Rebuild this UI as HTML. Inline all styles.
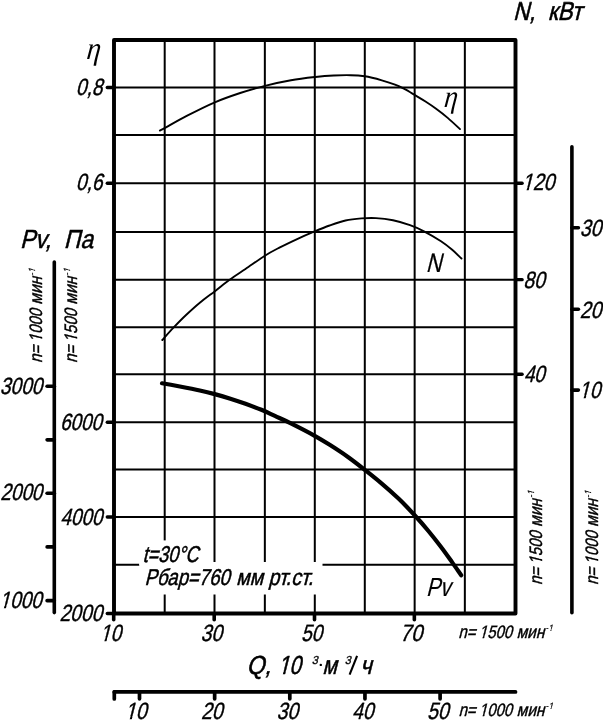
<!DOCTYPE html>
<html><head><meta charset="utf-8"><title>Fan performance chart</title>
<style>
html,body{margin:0;padding:0;background:#fff;}
svg{display:block;will-change:transform;filter:grayscale(1);}
.g{stroke:#000;stroke-width:2.0;}
.c{fill:none;stroke:#000;stroke-width:1.9;stroke-linecap:round;}
.p{fill:none;stroke:#000;stroke-width:4.2;stroke-linecap:round;}
.t{font-family:"Liberation Sans",sans-serif;font-style:normal;fill:#000;}
.s{font-family:"Liberation Serif",serif;font-style:italic;fill:#000;}
</style></head>
<body>
<svg width="603" height="720" viewBox="0 0 603 720">
<rect width="603" height="720" fill="#fff"/>
<line x1="164.70" y1="40.0" x2="164.70" y2="613.55" class="g"/>
<line x1="214.50" y1="40.0" x2="214.50" y2="613.55" class="g"/>
<line x1="264.85" y1="40.0" x2="264.85" y2="613.55" class="g"/>
<line x1="314.80" y1="40.0" x2="314.80" y2="613.55" class="g"/>
<line x1="364.80" y1="40.0" x2="364.80" y2="613.55" class="g"/>
<line x1="414.65" y1="40.0" x2="414.65" y2="613.55" class="g"/>
<line x1="464.85" y1="40.0" x2="464.85" y2="613.55" class="g"/>
<line x1="114.0" y1="87.55" x2="515.5" y2="87.55" class="g"/>
<line x1="114.0" y1="135.10" x2="515.5" y2="135.10" class="g"/>
<line x1="114.0" y1="183.30" x2="515.5" y2="183.30" class="g"/>
<line x1="114.0" y1="231.90" x2="515.5" y2="231.90" class="g"/>
<line x1="114.0" y1="279.67" x2="515.5" y2="279.67" class="g"/>
<line x1="114.0" y1="327.20" x2="515.5" y2="327.20" class="g"/>
<line x1="114.0" y1="374.20" x2="515.5" y2="374.20" class="g"/>
<line x1="114.0" y1="422.30" x2="515.5" y2="422.30" class="g"/>
<line x1="114.0" y1="469.50" x2="515.5" y2="469.50" class="g"/>
<line x1="114.0" y1="517.05" x2="515.5" y2="517.05" class="g"/>
<line x1="114.0" y1="564.75" x2="515.5" y2="564.75" class="g"/>
<rect x="139.3" y="540.4" width="65" height="25" fill="#fff"/>
<rect x="139.3" y="562.0" width="183.2" height="32.5" fill="#fff"/>
<rect x="114.0" y="40.0" width="401.50" height="573.55" fill="none" stroke="#000" stroke-width="3.9" stroke-linejoin="round"/>
<path d="M159.9,130.6 C160.8,130.1 161.0,130.2 165.5,127.7 C170.0,125.2 178.5,120.1 186.7,115.9 C194.9,111.7 205.9,106.1 214.8,102.3 C223.7,98.5 231.8,95.8 240.2,93.0 C248.6,90.2 256.5,87.9 265.0,85.8 C273.5,83.7 282.6,81.8 291.0,80.3 C299.4,78.8 308.4,77.8 315.5,77.0 C322.6,76.2 327.9,75.8 333.8,75.5 C339.7,75.2 345.5,75.1 350.7,75.2 C355.9,75.3 359.6,75.5 364.8,76.3 C370.0,77.1 376.8,78.9 381.8,80.3 C386.8,81.7 391.2,83.2 395.0,84.6 C398.8,86.0 401.0,87.2 404.3,88.9 C407.6,90.6 411.1,92.8 414.6,94.9 C418.1,97.0 421.9,99.2 425.5,101.5 C429.1,103.8 432.4,106.0 436.1,108.8 C439.9,111.6 444.0,114.7 448.0,118.1 C452.0,121.5 458.0,127.3 460.0,129.1" class="c"/>
<path d="M162.3,340.0 C164.2,337.9 169.6,331.8 173.5,327.7 C177.4,323.6 181.4,319.4 185.8,315.3 C190.2,311.2 195.0,306.8 199.8,302.8 C204.6,298.8 209.7,295.2 214.7,291.4 C219.7,287.6 224.5,283.5 229.6,279.8 C234.7,276.1 239.6,273.0 245.5,269.0 C251.4,265.0 259.2,259.3 264.9,255.7 C270.6,252.1 274.1,250.4 279.9,247.4 C285.7,244.4 294.0,240.5 299.8,237.8 C305.6,235.1 309.7,233.5 314.7,231.4 C319.7,229.3 324.5,227.3 329.6,225.5 C334.7,223.7 340.2,221.7 345.5,220.5 C350.8,219.3 356.3,218.8 361.4,218.4 C366.5,218.0 370.7,217.8 376.0,218.1 C381.3,218.4 387.3,219.1 393.0,220.3 C398.7,221.5 404.8,223.3 410.0,225.2 C415.2,227.0 418.8,228.7 424.0,231.4 C429.2,234.1 436.3,238.2 441.0,241.3 C445.7,244.4 448.8,246.9 452.2,249.8 C455.6,252.7 459.9,257.1 461.5,258.5" class="c"/>
<path d="M162.0,383.3 C165.0,383.8 173.6,385.3 179.9,386.5 C186.2,387.7 194.0,389.2 199.8,390.5 C205.6,391.8 209.7,392.8 214.7,394.1 C219.7,395.4 224.5,396.8 229.6,398.4 C234.7,400.0 240.2,401.9 245.5,403.8 C250.8,405.7 256.5,407.8 261.4,409.8 C266.3,411.8 270.1,413.7 274.9,415.9 C279.6,418.1 283.3,419.6 289.9,422.9 C296.5,426.2 308.1,432.1 314.7,435.8 C321.3,439.5 324.2,441.3 329.7,444.8 C335.2,448.3 341.8,452.6 347.6,456.7 C353.4,460.8 359.1,465.3 364.5,469.6 C369.9,473.9 374.6,477.6 380.3,482.4 C386.0,487.2 392.7,493.1 398.5,498.6 C404.3,504.1 409.9,510.1 414.9,515.5 C419.9,520.9 424.2,525.9 428.4,531.0 C432.6,536.1 436.3,540.8 440.3,546.0 C444.3,551.2 448.7,557.5 452.2,562.4 C455.7,567.3 459.7,573.1 461.2,575.2" class="p"/>
<line x1="107.30" y1="87.55" x2="114.00" y2="87.55" stroke="#000" stroke-width="3.4" stroke-linecap="round"/>
<line x1="107.30" y1="183.30" x2="114.00" y2="183.30" stroke="#000" stroke-width="3.4" stroke-linecap="round"/>
<line x1="107.30" y1="422.30" x2="114.00" y2="422.30" stroke="#000" stroke-width="3.4" stroke-linecap="round"/>
<line x1="107.30" y1="517.05" x2="114.00" y2="517.05" stroke="#000" stroke-width="3.4" stroke-linecap="round"/>
<line x1="107.30" y1="613.55" x2="114.00" y2="613.55" stroke="#000" stroke-width="3.4" stroke-linecap="round"/>
<line x1="515.50" y1="183.30" x2="522.10" y2="183.30" stroke="#000" stroke-width="3.4" stroke-linecap="round"/>
<line x1="515.50" y1="279.67" x2="522.10" y2="279.67" stroke="#000" stroke-width="3.4" stroke-linecap="round"/>
<line x1="515.50" y1="374.20" x2="522.10" y2="374.20" stroke="#000" stroke-width="3.4" stroke-linecap="round"/>
<line x1="113.70" y1="613.55" x2="113.70" y2="619.80" stroke="#000" stroke-width="3.6" stroke-linecap="round"/>
<line x1="214.20" y1="613.55" x2="214.20" y2="619.80" stroke="#000" stroke-width="3.6" stroke-linecap="round"/>
<line x1="314.50" y1="613.55" x2="314.50" y2="619.80" stroke="#000" stroke-width="3.6" stroke-linecap="round"/>
<line x1="414.35" y1="613.55" x2="414.35" y2="619.80" stroke="#000" stroke-width="3.6" stroke-linecap="round"/>
<line x1="54.30" y1="262.00" x2="54.30" y2="612.60" stroke="#000" stroke-width="3.6" stroke-linecap="round"/>
<line x1="47.10" y1="386.30" x2="54.30" y2="386.30" stroke="#000" stroke-width="3.6" stroke-linecap="round"/>
<line x1="47.10" y1="439.85" x2="54.30" y2="439.85" stroke="#000" stroke-width="3.6" stroke-linecap="round"/>
<line x1="47.10" y1="493.20" x2="54.30" y2="493.20" stroke="#000" stroke-width="3.6" stroke-linecap="round"/>
<line x1="47.10" y1="546.90" x2="54.30" y2="546.90" stroke="#000" stroke-width="3.6" stroke-linecap="round"/>
<line x1="47.10" y1="600.65" x2="54.30" y2="600.65" stroke="#000" stroke-width="3.6" stroke-linecap="round"/>
<line x1="571.90" y1="146.80" x2="571.90" y2="612.70" stroke="#000" stroke-width="3.6" stroke-linecap="round"/>
<line x1="571.90" y1="227.80" x2="578.40" y2="227.80" stroke="#000" stroke-width="3.6" stroke-linecap="round"/>
<line x1="571.90" y1="309.20" x2="578.40" y2="309.20" stroke="#000" stroke-width="3.6" stroke-linecap="round"/>
<line x1="571.90" y1="390.10" x2="578.40" y2="390.10" stroke="#000" stroke-width="3.6" stroke-linecap="round"/>
<line x1="114.30" y1="691.90" x2="515.50" y2="691.90" stroke="#000" stroke-width="3.8" stroke-linecap="round"/>
<line x1="114.30" y1="691.90" x2="114.30" y2="699.00" stroke="#000" stroke-width="3.7" stroke-linecap="round"/>
<line x1="139.50" y1="691.90" x2="139.50" y2="698.80" stroke="#000" stroke-width="3.7" stroke-linecap="round"/>
<line x1="214.65" y1="691.90" x2="214.65" y2="698.80" stroke="#000" stroke-width="3.7" stroke-linecap="round"/>
<line x1="289.80" y1="691.90" x2="289.80" y2="698.80" stroke="#000" stroke-width="3.7" stroke-linecap="round"/>
<line x1="364.95" y1="691.90" x2="364.95" y2="698.80" stroke="#000" stroke-width="3.7" stroke-linecap="round"/>
<line x1="440.10" y1="691.90" x2="440.10" y2="698.80" stroke="#000" stroke-width="3.7" stroke-linecap="round"/>
<g transform="translate(75.85,95.40) skewX(-14) scale(0.8087,1)"><text font-size="23.5" class="t" stroke="#000" stroke-width="0.42">0,8</text></g>
<g transform="translate(75.85,189.80) skewX(-14) scale(0.8087,1)"><text font-size="23.5" class="t" stroke="#000" stroke-width="0.42">0,6</text></g>
<g transform="translate(59.93,429.80) skewX(-14) scale(0.799,1)"><text font-size="23.5" class="t" stroke="#000" stroke-width="0.42">6000</text></g>
<g transform="translate(60.33,524.50) skewX(-14) scale(0.7991,1)"><text font-size="23.5" class="t" stroke="#000" stroke-width="0.42">4000</text></g>
<g transform="translate(59.43,620.90) skewX(-14) scale(0.8168,1)"><text font-size="23.5" class="t" stroke="#000" stroke-width="0.42">2000</text></g>
<g transform="translate(-0.27,393.70) skewX(-14) scale(0.8108,1)"><text font-size="23.5" class="t" stroke="#000" stroke-width="0.42">3000</text></g>
<g transform="translate(0.25,500.40) skewX(-14) scale(0.8006,1)"><text font-size="23.5" class="t" stroke="#000" stroke-width="0.42">2000</text></g>
<g transform="translate(-0.58,607.80) skewX(-14) scale(0.8072,1)"><clipPath id="k1"><path clip-rule="evenodd" d="M-23.50 -30.55H75.78V14.10H-23.50ZM-0.80 -3.27H5.70V2.01H-0.80ZM8.20 -3.27H13.37V2.01H8.20Z"/></clipPath><text font-size="23.5" class="t" clip-path="url(#k1)" stroke="#000" stroke-width="0.42">1000</text></g>
<g transform="translate(521.96,189.90) skewX(-14) scale(0.8264,1)"><clipPath id="k2"><path clip-rule="evenodd" d="M-23.50 -30.55H62.71V14.10H-23.50ZM-0.80 -3.27H5.70V2.01H-0.80ZM8.20 -3.27H13.37V2.01H8.20Z"/></clipPath><text font-size="23.5" class="t" clip-path="url(#k2)" stroke="#000" stroke-width="0.42">120</text></g>
<g transform="translate(523.22,287.60) skewX(-14) scale(0.8191,1)"><text font-size="23.5" class="t" stroke="#000" stroke-width="0.42">80</text></g>
<g transform="translate(523.63,382.40) skewX(-14) scale(0.8028,1)"><text font-size="23.5" class="t" stroke="#000" stroke-width="0.42">40</text></g>
<g transform="translate(579.82,236.20) skewX(-14) scale(0.8234,1)"><text font-size="23.5" class="t" stroke="#000" stroke-width="0.42">30</text></g>
<g transform="translate(579.72,317.60) skewX(-14) scale(0.8232,1)"><text font-size="23.5" class="t" stroke="#000" stroke-width="0.42">20</text></g>
<g transform="translate(579.12,398.10) skewX(-14) scale(0.8073,1)"><clipPath id="k3"><path clip-rule="evenodd" d="M-23.50 -30.55H49.64V14.10H-23.50ZM-0.80 -3.27H5.70V2.01H-0.80ZM8.20 -3.27H13.37V2.01H8.20Z"/></clipPath><text font-size="23.5" class="t" clip-path="url(#k3)" stroke="#000" stroke-width="0.42">10</text></g>
<g transform="translate(100.02,640.60) skewX(-14) scale(0.8073,1)"><clipPath id="k4"><path clip-rule="evenodd" d="M-23.50 -30.55H49.64V14.10H-23.50ZM-0.80 -3.27H5.70V2.01H-0.80ZM8.20 -3.27H13.37V2.01H8.20Z"/></clipPath><text font-size="23.5" class="t" clip-path="url(#k4)" stroke="#000" stroke-width="0.42">10</text></g>
<g transform="translate(200.62,640.60) skewX(-14) scale(0.8234,1)"><text font-size="23.5" class="t" stroke="#000" stroke-width="0.42">30</text></g>
<g transform="translate(301.06,640.60) skewX(-14) scale(0.8056,1)"><text font-size="23.5" class="t" stroke="#000" stroke-width="0.42">50</text></g>
<g transform="translate(399.73,640.60) skewX(-14) scale(0.8595,1)"><text font-size="23.5" class="t" stroke="#000" stroke-width="0.42">70</text></g>
<g transform="translate(124.95,719.40) skewX(-14) scale(0.8303,1)"><clipPath id="k5"><path clip-rule="evenodd" d="M-23.50 -30.55H49.64V14.10H-23.50ZM-0.80 -3.27H5.70V2.01H-0.80ZM8.20 -3.27H13.37V2.01H8.20Z"/></clipPath><text font-size="23.5" class="t" clip-path="url(#k5)" stroke="#000" stroke-width="0.42">10</text></g>
<g transform="translate(201.12,719.40) skewX(-14) scale(0.8232,1)"><text font-size="23.5" class="t" stroke="#000" stroke-width="0.42">20</text></g>
<g transform="translate(276.52,719.40) skewX(-14) scale(0.8234,1)"><text font-size="23.5" class="t" stroke="#000" stroke-width="0.42">30</text></g>
<g transform="translate(352.12,719.40) skewX(-14) scale(0.8111,1)"><text font-size="23.5" class="t" stroke="#000" stroke-width="0.42">40</text></g>
<g transform="translate(427.04,719.40) skewX(-14) scale(0.8227,1)"><text font-size="23.5" class="t" stroke="#000" stroke-width="0.42">50</text></g>
<g transform="translate(19.91,248.10) skewX(-14) scale(0.8761,1)"><text font-size="26.0" class="t" stroke="#000" stroke-width="0.55">Pv,&#160;&#160;Па</text></g>
<g transform="translate(512.95,19.90) skewX(-14) scale(0.8609,1)"><text font-size="26.0" class="t" stroke="#000" stroke-width="0.55">N,&#160;&#160;кВт</text></g>
<g transform="translate(246.54,674.30) skewX(-14) scale(0.8825,1)"><text font-size="26.0" class="t" stroke="#000" stroke-width="0.55">Q,</text></g>
<g transform="translate(277.92,674.30) skewX(-14) scale(0.7924,1)"><clipPath id="k6"><path clip-rule="evenodd" d="M-26.00 -33.80H54.92V15.60H-26.00ZM-0.80 -3.52H6.26V2.08H-0.80ZM9.11 -3.52H14.76V2.08H9.11Z"/></clipPath><text font-size="26.0" class="t" clip-path="url(#k6)" stroke="#000" stroke-width="0.55">10</text></g>
<g transform="translate(311.78,663.90) skewX(-14) scale(0.9328,1)"><text font-size="11.6" class="t" stroke="#000" stroke-width="0.35">3</text></g>
<circle cx="320.8" cy="664.9" r="1.2" fill="#000"/>
<g transform="translate(322.20,674.30) skewX(-14) scale(0.8075,1)"><text font-size="26.0" class="t" stroke="#000" stroke-width="0.55">м</text></g>
<g transform="translate(344.78,663.90) skewX(-14) scale(0.9328,1)"><text font-size="11.6" class="t" stroke="#000" stroke-width="0.35">3</text></g>
<line x1="349.6" y1="674.6" x2="357.1" y2="655.9" stroke="#000" stroke-width="2.1"/>
<g transform="translate(359.94,674.30) skewX(-14) scale(0.8558,1)"><text font-size="26.0" class="t" stroke="#000" stroke-width="0.55">ч</text></g>
<g transform="translate(425.85,271.60) skewX(-14) scale(0.8035,1)"><text font-size="26.8" class="t" stroke="#000" stroke-width="0.25">N</text></g>
<g transform="translate(425.90,596.10) skewX(-14) scale(0.7987,1)"><text font-size="26.2" class="t" stroke="#000" stroke-width="0.2">Pv</text></g>
<text transform="translate(86.0,59.2) skewX(-6) scale(0.95,1.06)" font-size="30" class="s">η</text>
<text transform="translate(443.6,107.2) skewX(-6) scale(0.93,1.06)" font-size="29.5" class="s">η</text>
<g transform="translate(142.49,561.90) skewX(-14) scale(0.7921,1)"><text font-size="22.8" class="t" stroke="#000" stroke-width="0.5">t=30°C</text></g>
<g transform="translate(144.48,584.50) skewX(-14) scale(0.8155,1)"><text font-size="22.8" class="t" stroke="#000" stroke-width="0.5">Рбар=760</text></g>
<g transform="translate(235.92,584.50) skewX(-14) scale(0.8603,1)"><text font-size="22.8" class="t" stroke="#000" stroke-width="0.5">мм&#160;рт.ст.</text></g>
<g transform="translate(458.28,638.20) skewX(-14) scale(0.8384,1)"><text font-size="18.0" class="t" stroke="#000" stroke-width="0.42">n=</text></g>
<g transform="translate(478.91,638.20) skewX(-14) scale(0.8249,1)"><clipPath id="k7"><path clip-rule="evenodd" d="M-18.00 -23.40H58.04V10.80H-18.00ZM-0.80 -2.85H4.32V2.01H-0.80ZM6.33 -2.85H10.31V2.01H6.33Z"/></clipPath><text font-size="18.0" class="t" clip-path="url(#k7)" stroke="#000" stroke-width="0.42">1500</text></g>
<g transform="translate(516.41,638.20) skewX(-14) scale(0.8624,1)"><text font-size="18.0" class="t" stroke="#000" stroke-width="0.42">мин</text></g>
<g transform="translate(545.50,630.60) skewX(-14) scale(0.9518,1)"><clipPath id="k8"><path clip-rule="evenodd" d="M-9.00 -11.70H17.00V5.40H-9.00ZM2.20 -2.07H5.16V1.90H2.20ZM6.16 -2.07H8.30V1.90H6.16Z"/></clipPath><text font-size="9.0" class="t" clip-path="url(#k8)" stroke="#000" stroke-width="0.2">-1</text></g>
<g transform="translate(458.38,716.30) skewX(-14) scale(0.8384,1)"><text font-size="18.0" class="t" stroke="#000" stroke-width="0.42">n=</text></g>
<g transform="translate(479.01,716.30) skewX(-14) scale(0.8249,1)"><clipPath id="k9"><path clip-rule="evenodd" d="M-18.00 -23.40H58.04V10.80H-18.00ZM-0.80 -2.85H4.32V2.01H-0.80ZM6.33 -2.85H10.31V2.01H6.33Z"/></clipPath><text font-size="18.0" class="t" clip-path="url(#k9)" stroke="#000" stroke-width="0.42">1000</text></g>
<g transform="translate(516.51,716.30) skewX(-14) scale(0.8624,1)"><text font-size="18.0" class="t" stroke="#000" stroke-width="0.42">мин</text></g>
<g transform="translate(545.60,708.70) skewX(-14) scale(0.9518,1)"><clipPath id="k10"><path clip-rule="evenodd" d="M-9.00 -11.70H17.00V5.40H-9.00ZM2.20 -2.07H5.16V1.90H2.20ZM6.16 -2.07H8.30V1.90H6.16Z"/></clipPath><text font-size="9.0" class="t" clip-path="url(#k10)" stroke="#000" stroke-width="0.2">-1</text></g>
<g transform="translate(42.10,362.92) rotate(-90) skewX(-14) scale(0.8384,1)"><text font-size="18.0" class="t" stroke="#000" stroke-width="0.42">n=</text></g>
<g transform="translate(42.10,342.29) rotate(-90) skewX(-14) scale(0.8249,1)"><clipPath id="k11"><path clip-rule="evenodd" d="M-18.00 -23.40H58.04V10.80H-18.00ZM-0.80 -2.85H4.32V2.01H-0.80ZM6.33 -2.85H10.31V2.01H6.33Z"/></clipPath><text font-size="18.0" class="t" clip-path="url(#k11)" stroke="#000" stroke-width="0.42">1000</text></g>
<g transform="translate(42.10,304.79) rotate(-90) skewX(-14) scale(0.8624,1)"><text font-size="18.0" class="t" stroke="#000" stroke-width="0.42">мин</text></g>
<g transform="translate(34.50,275.70) rotate(-90) skewX(-14) scale(0.9518,1)"><clipPath id="k12"><path clip-rule="evenodd" d="M-9.00 -11.70H17.00V5.40H-9.00ZM2.20 -2.07H5.16V1.90H2.20ZM6.16 -2.07H8.30V1.90H6.16Z"/></clipPath><text font-size="9.0" class="t" clip-path="url(#k12)" stroke="#000" stroke-width="0.2">-1</text></g>
<g transform="translate(77.30,362.92) rotate(-90) skewX(-14) scale(0.8384,1)"><text font-size="18.0" class="t" stroke="#000" stroke-width="0.42">n=</text></g>
<g transform="translate(77.30,342.29) rotate(-90) skewX(-14) scale(0.8249,1)"><clipPath id="k13"><path clip-rule="evenodd" d="M-18.00 -23.40H58.04V10.80H-18.00ZM-0.80 -2.85H4.32V2.01H-0.80ZM6.33 -2.85H10.31V2.01H6.33Z"/></clipPath><text font-size="18.0" class="t" clip-path="url(#k13)" stroke="#000" stroke-width="0.42">1500</text></g>
<g transform="translate(77.30,304.79) rotate(-90) skewX(-14) scale(0.8624,1)"><text font-size="18.0" class="t" stroke="#000" stroke-width="0.42">мин</text></g>
<g transform="translate(69.70,275.70) rotate(-90) skewX(-14) scale(0.9518,1)"><clipPath id="k14"><path clip-rule="evenodd" d="M-9.00 -11.70H17.00V5.40H-9.00ZM2.20 -2.07H5.16V1.90H2.20ZM6.16 -2.07H8.30V1.90H6.16Z"/></clipPath><text font-size="9.0" class="t" clip-path="url(#k14)" stroke="#000" stroke-width="0.2">-1</text></g>
<g transform="translate(541.90,585.12) rotate(-90) skewX(-14) scale(0.8384,1)"><text font-size="18.0" class="t" stroke="#000" stroke-width="0.42">n=</text></g>
<g transform="translate(541.90,564.49) rotate(-90) skewX(-14) scale(0.8249,1)"><clipPath id="k15"><path clip-rule="evenodd" d="M-18.00 -23.40H58.04V10.80H-18.00ZM-0.80 -2.85H4.32V2.01H-0.80ZM6.33 -2.85H10.31V2.01H6.33Z"/></clipPath><text font-size="18.0" class="t" clip-path="url(#k15)" stroke="#000" stroke-width="0.42">1500</text></g>
<g transform="translate(541.90,526.99) rotate(-90) skewX(-14) scale(0.8624,1)"><text font-size="18.0" class="t" stroke="#000" stroke-width="0.42">мин</text></g>
<g transform="translate(534.30,497.90) rotate(-90) skewX(-14) scale(0.9518,1)"><clipPath id="k16"><path clip-rule="evenodd" d="M-9.00 -11.70H17.00V5.40H-9.00ZM2.20 -2.07H5.16V1.90H2.20ZM6.16 -2.07H8.30V1.90H6.16Z"/></clipPath><text font-size="9.0" class="t" clip-path="url(#k16)" stroke="#000" stroke-width="0.2">-1</text></g>
<g transform="translate(598.30,585.12) rotate(-90) skewX(-14) scale(0.8384,1)"><text font-size="18.0" class="t" stroke="#000" stroke-width="0.42">n=</text></g>
<g transform="translate(598.30,564.49) rotate(-90) skewX(-14) scale(0.8249,1)"><clipPath id="k17"><path clip-rule="evenodd" d="M-18.00 -23.40H58.04V10.80H-18.00ZM-0.80 -2.85H4.32V2.01H-0.80ZM6.33 -2.85H10.31V2.01H6.33Z"/></clipPath><text font-size="18.0" class="t" clip-path="url(#k17)" stroke="#000" stroke-width="0.42">1000</text></g>
<g transform="translate(598.30,526.99) rotate(-90) skewX(-14) scale(0.8624,1)"><text font-size="18.0" class="t" stroke="#000" stroke-width="0.42">мин</text></g>
<g transform="translate(590.70,497.90) rotate(-90) skewX(-14) scale(0.9518,1)"><clipPath id="k18"><path clip-rule="evenodd" d="M-9.00 -11.70H17.00V5.40H-9.00ZM2.20 -2.07H5.16V1.90H2.20ZM6.16 -2.07H8.30V1.90H6.16Z"/></clipPath><text font-size="9.0" class="t" clip-path="url(#k18)" stroke="#000" stroke-width="0.2">-1</text></g>
</svg>
</body></html>
